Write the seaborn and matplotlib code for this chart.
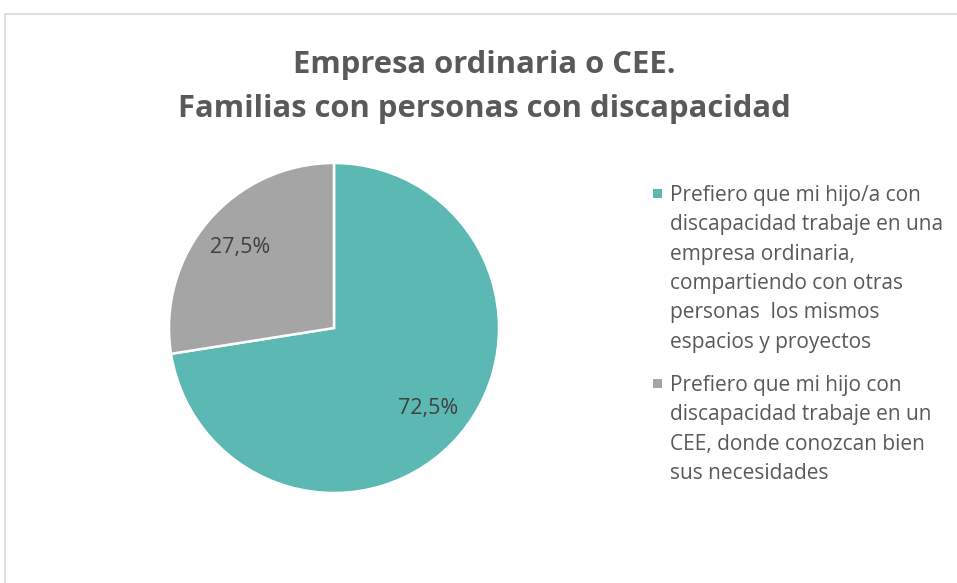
import matplotlib
matplotlib.use("Agg")
import matplotlib.pyplot as plt
import seaborn as sns
from matplotlib.patches import Rectangle

# ---------------------------------------------------------------------------
# Data
# ---------------------------------------------------------------------------
categories = [
    "Prefiero que mi hijo/a con\ndiscapacidad trabaje en una\nempresa ordinaria,\n"
    "compartiendo con otras\npersonas  los mismos\nespacios y proyectos",
    "Prefiero que mi hijo con\ndiscapacidad trabaje en un\nCEE, donde conozcan bien\n"
    "sus necesidades",
]
values = [72.5, 27.5]
title = "Empresa ordinaria o CEE.\nFamilias con personas con discapacidad"

COLORS = ["#5BB8B2", "#A5A5A5"]
TEXT_COLOR = "#595959"
LABEL_COLOR = "#404040"
W, H = 957, 583

sns.set_theme(style="white")
plt.rcParams["font.family"] = ["Open Sans", "DejaVu Sans"]

fig = plt.figure(figsize=(W / 100, H / 100), dpi=100)
fig.patch.set_facecolor("white")

# chart frame (only top / left edges fall inside the picture)
fig.patches.append(Rectangle((5 / W, -0.2), 1.2, 0.2 + 1 - 14 / H,
                             transform=fig.transFigure, fill=False,
                             edgecolor="#D9D9D9", linewidth=1.2, zorder=0))

# ---------------------------------------------------------------------------
# Pie
# ---------------------------------------------------------------------------
ax = fig.add_axes([169 / W, 90 / H, 330 / W, 330 / H])
wedges, texts, autotexts = ax.pie(
    values, colors=COLORS, startangle=90, counterclock=False,
    autopct=lambda p: f"{p:.1f}%".replace(".", ","), pctdistance=0.75,
    wedgeprops={"edgecolor": "white", "linewidth": 1.8},
    textprops={"fontsize": 15.5, "color": LABEL_COLOR})
ax.set_xlim(-1, 1)
ax.set_ylim(-1, 1)
ax.set_aspect("equal")

fig.text(0.506, 1 - 87 / H, title, ha="center", va="center", fontsize=22.3,
         fontweight="bold", color=TEXT_COLOR, linespacing=1.6)

# ---------------------------------------------------------------------------
# Legend (marker aligned with the first line of each entry)
# ---------------------------------------------------------------------------
tops = [185, 375]
for wedge, label, top in zip(wedges, categories, tops):
    fig.text(670 / W, 1 - top / H, label, ha="left", va="top",
             fontsize=15, color=TEXT_COLOR, linespacing=1.52)
    fig.patches.append(Rectangle((653 / W, 1 - (top + 12.5) / H), 8.5 / W, 8.5 / H,
                                 transform=fig.transFigure,
                                 facecolor=wedge.get_facecolor(),
                                 edgecolor="none"))

fig.savefig("out.png", dpi=100, facecolor="white")
